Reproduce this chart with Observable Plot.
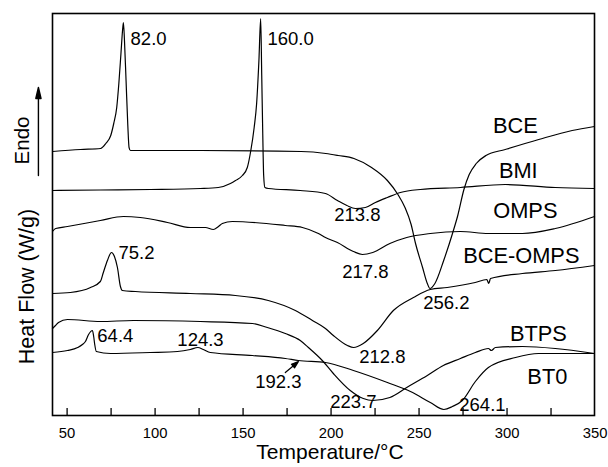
<!DOCTYPE html>
<html>
<head>
<meta charset="utf-8">
<script src="https://cdn.jsdelivr.net/npm/d3@7"></script>
<script src="https://cdn.jsdelivr.net/npm/@observablehq/plot@0.6"></script>
<style>
html, body { margin: 0; padding: 0; background: #fff; }
svg { display: block; }
</style>
</head>
<body>
<div id="chart"></div>
<script>
// ---- Data: [temperature °C, heat flow (arbitrary, offset curves)] ----
const seriesNames = ["BCE", "BMI", "OMPS", "BCE-OMPS", "BTPS", "BT0"];

const BCE = [[41.7,264],[57.6,266],[69,267],[72,272],[74.8,280],[76.5,292],[78.2,308],[79.4,332],[80.6,362],[81.5,385],[82.0,393],[82.6,375],[83.5,335],[84.5,290],[85.2,268],[86,265],[100,265],[126,265],[183,264],[197,262],[204,260],[213,257],[223,248],[232,235],[238,221],[242,208],[245.5,191],[248,172],[252,148],[254.7,132],[256.2,127],[259,132],[264,155],[269,182],[272,200],[275.5,226],[278.5,241],[282.5,252],[288,260],[299,266],[318,276],[337,285],[349.7,289]];

const BMI = [[41.7,225],[68.9,225.5],[97.3,226],[125.7,227],[135.9,228],[142.8,232],[145.7,235],[149.6,240],[152.4,248],[154.4,265],[156.3,288],[157.7,312],[159.0,355],[160.0,397],[160.6,340],[161.2,280],[161.7,240],[162.4,228],[164.4,227],[182.5,225],[196.8,222],[203.6,215],[209,210],[213.8,207],[219.5,208],[225.2,213],[232,218],[239.4,223],[250.7,226],[273.5,228],[299,231],[327.4,228],[349.7,227]];

const OMPS = [[41.7,184],[43.5,187],[50.2,189],[68.9,195],[82,199],[91.6,198],[107,193],[120,188],[128.6,188],[133.1,186],[136,189],[138.2,192],[143.9,194],[174,190],[183.7,188],[192.8,182],[196.8,178],[203.6,173],[212.7,164],[217.8,161],[223.7,163],[233.4,172],[243,178],[256.4,182],[273.5,184],[289.4,182],[308.7,182],[327.4,187],[349.7,199]];

const BCE_OMPS = [[41.7,122],[51.9,123],[63.3,128],[68.9,134],[70.6,143],[72.9,155],[75.2,163],[76.9,159],[78.6,148],[80.3,129],[81.4,125],[88.8,124],[120,122],[145.6,120],[164.3,115],[179.7,105],[189.4,95],[196.8,87],[201.3,80],[209.3,70],[212.8,68],[218.3,72],[226.3,85],[235.4,105],[246.8,118],[256.4,126],[266,128],[281.9,133],[288.5,136],[289.6,132],[290.6,137],[308.7,142],[327.4,145],[349.7,150]];

const BTPS = [[41.7,87],[43.4,90],[45.1,93],[50.2,96],[68.9,94],[87.7,95],[125.7,94],[155.3,92],[163.8,88],[174,82],[182.5,75],[187.1,68],[195,55],[201.3,42],[210.9,25],[218.3,17],[223.7,15],[233.4,18],[243,28],[254.7,40],[263.8,50],[273.5,57],[282,63],[289.4,67],[291.1,65],[293.4,68],[308.7,69],[327.4,67],[349.7,62]];

const BT0 = [[41.7,63],[50.2,65],[56,68],[58.7,71],[60.4,74],[62.2,81],[64.4,85],[65.1,79],[65.7,71],[66.6,64],[74.6,62],[97.3,63],[112.7,64],[120,66],[124.3,68],[127.4,66],[131.4,63],[155.3,60],[174,57],[181.4,55],[196.8,53],[212.7,45],[232,33],[245.1,24],[256.4,13],[264.1,6],[269,9],[274.6,15],[282,34],[289.4,48],[304.8,58],[317.9,62],[349.7,62]];

const seriesData = [BCE, BMI, OMPS, BCE_OMPS, BTPS, BT0];

// Tick labels
const xTickLabels = [50, 100, 150, 200, 250, 300, 350];
const xTickMarks = [50, 75, 100, 125, 150, 175, 200, 225, 250, 275, 300, 325];

// Curve name labels
const seriesLabelText = ["BCE", "BMI", "OMPS", "BCE-OMPS", "BTPS", "BT0"];
const seriesLabelT    = [304.7, 306.4, 310.4, 308.1, 317.8, 322.9];
const seriesLabelHF   = [289, 244, 204, 159, 81, 38];

// Peak annotations
const peakText = ["82.0", "160.0", "213.8", "217.8", "256.2", "212.8", "223.7", "264.1", "75.2", "64.4", "124.3", "192.3"];
const peakT    = [96.3, 177, 214.9, 219.5, 265.5, 229.1, 212.7, 286, 89.4, 77.4, 125.8, 170];
const peakHF   = [376, 376, 200, 143, 112, 58, 13, 10, 162, 79, 75, 33];

// Axis titles
const xTitle = "Temperature/°C";
const yTitle = "Heat Flow (W/g)";
const endoText = "Endo";

// ---- Build tables ----
const rows = [];
seriesNames.forEach((name, i) => seriesData[i].forEach(([T, hf]) => rows.push({name, T, hf})));
const seriesLabels = seriesLabelText.map((text, i) => ({text, T: seriesLabelT[i], hf: seriesLabelHF[i]}));
const peakLabels = peakText.map((text, i) => ({text, T: peakT[i], hf: peakHF[i]}));

function arrowShape(h, w) {
  return {
    draw(ctx, l) {
      ctx.moveTo(0, 0);
      ctx.lineTo(0, -l + h - 1);
      ctx.moveTo(0, -l);
      ctx.lineTo(-w, -l + h);
      ctx.lineTo(w, -l + h);
      ctx.closePath();
    }
  };
}

const font = "'Liberation Sans', Arial, Helvetica, sans-serif";

const chart = Plot.plot({
  width: 608,
  height: 467,
  marginTop: 13,
  marginRight: 14,
  marginBottom: 52,
  marginLeft: 52,
  style: {fontFamily: font, background: "white", color: "black", overflow: "visible"},
  x: {domain: [41.7, 349.7], label: null},
  y: {domain: [0, 402], axis: null},
  marks: [
    Plot.tickX(xTickMarks, {x: d => d, insetTop: 395, stroke: "black", strokeWidth: 1.3}),
    Plot.axisX(xTickLabels, {tickSize: 0, tickPadding: 12, fontSize: 14.8, label: null}),
    Plot.line(rows, {x: "T", y: "hf", z: "name", curve: "monotone-x", stroke: "black", strokeWidth: 1.2}),
    Plot.text(seriesLabels, {x: "T", y: "hf", text: "text", fontSize: 21.8}),
    Plot.text(peakLabels, {x: "T", y: "hf", text: "text", fontSize: 18.5}),
    Plot.text([yTitle], {x: () => 27.0, y: () => 129, text: d => d, rotate: -90, fontSize: 21.5}),
    Plot.text([endoText], {x: () => 24.4, y: () => 275, text: d => d, rotate: -90, fontSize: 20.5}),
    Plot.vector([{T: 33.7, hf: 240}], {x: "T", y: "hf", length: 88, rotate: 0, anchor: "start",
      shape: arrowShape(11, 2.6), stroke: "black", fill: "black", strokeWidth: 1.4}),
    Plot.vector([{T: 174, hf: 43}], {x: "T", y: "hf", length: 17, rotate: 50, anchor: "start",
      shape: arrowShape(7, 2.4), stroke: "black", fill: "black", strokeWidth: 1.2}),
    Plot.text([xTitle], {frameAnchor: "bottom", text: d => d, dx: 6.5, dy: 43.3, fontSize: 21}),
    Plot.frame({stroke: "black", strokeWidth: 1.6})
  ]
});
document.getElementById("chart").appendChild(chart);
</script>
</body>
</html>
